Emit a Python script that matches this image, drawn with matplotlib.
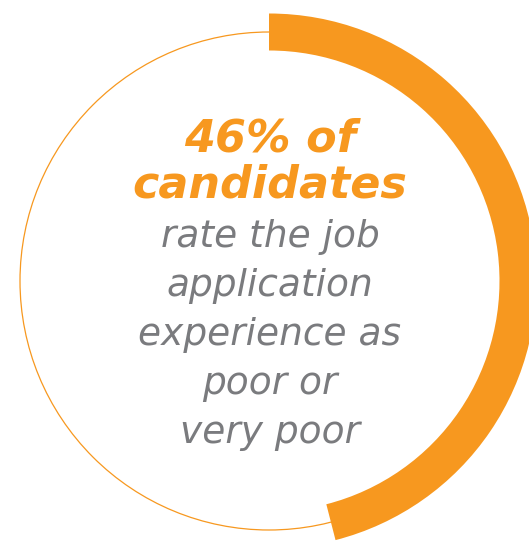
import matplotlib.pyplot as plt
from matplotlib.patches import Wedge, Circle

# data
share = [46]          # percent of candidates
headline = ["46% of", "candidates"]
body = ["rate the job", "application", "experience as", "poor or", "very poor"]

ORANGE = "#F7981F"
GREY = "#7A7B7E"

W, H = 529, 547
fig = plt.figure(figsize=(W / 100, H / 100), dpi=100)
ax = fig.add_axes([0, 0, 1, 1])
ax.set_xlim(0, W)
ax.set_ylim(0, H)
ax.axis("off")

cx, cy, r = 269, H - 281, 249

# thin full ring
ax.add_patch(Circle((cx, cy), r, fill=False, ec=ORANGE, lw=0.9))

# thick arc, clockwise from 12 o'clock
sweep = share[0] / 100 * 360
ax.add_patch(Wedge((cx, cy), r + 18.5, 90 - sweep, 90, width=37, fc=ORANGE, ec="none"))

# headline
for i, line in enumerate(headline):
    ax.text(cx + 1, H - (152 + i * 46), line, ha="center", va="baseline",
            fontsize=32, fontweight="bold", fontstyle="italic",
            family="DejaVu Sans", color=ORANGE)

for i, line in enumerate(body):
    ax.text(cx + 1, H - (247 + i * 49), line, ha="center", va="baseline",
            fontsize=27, fontstyle="italic",
            family="DejaVu Sans", color=GREY)

fig.savefig("out.png", dpi=100)
